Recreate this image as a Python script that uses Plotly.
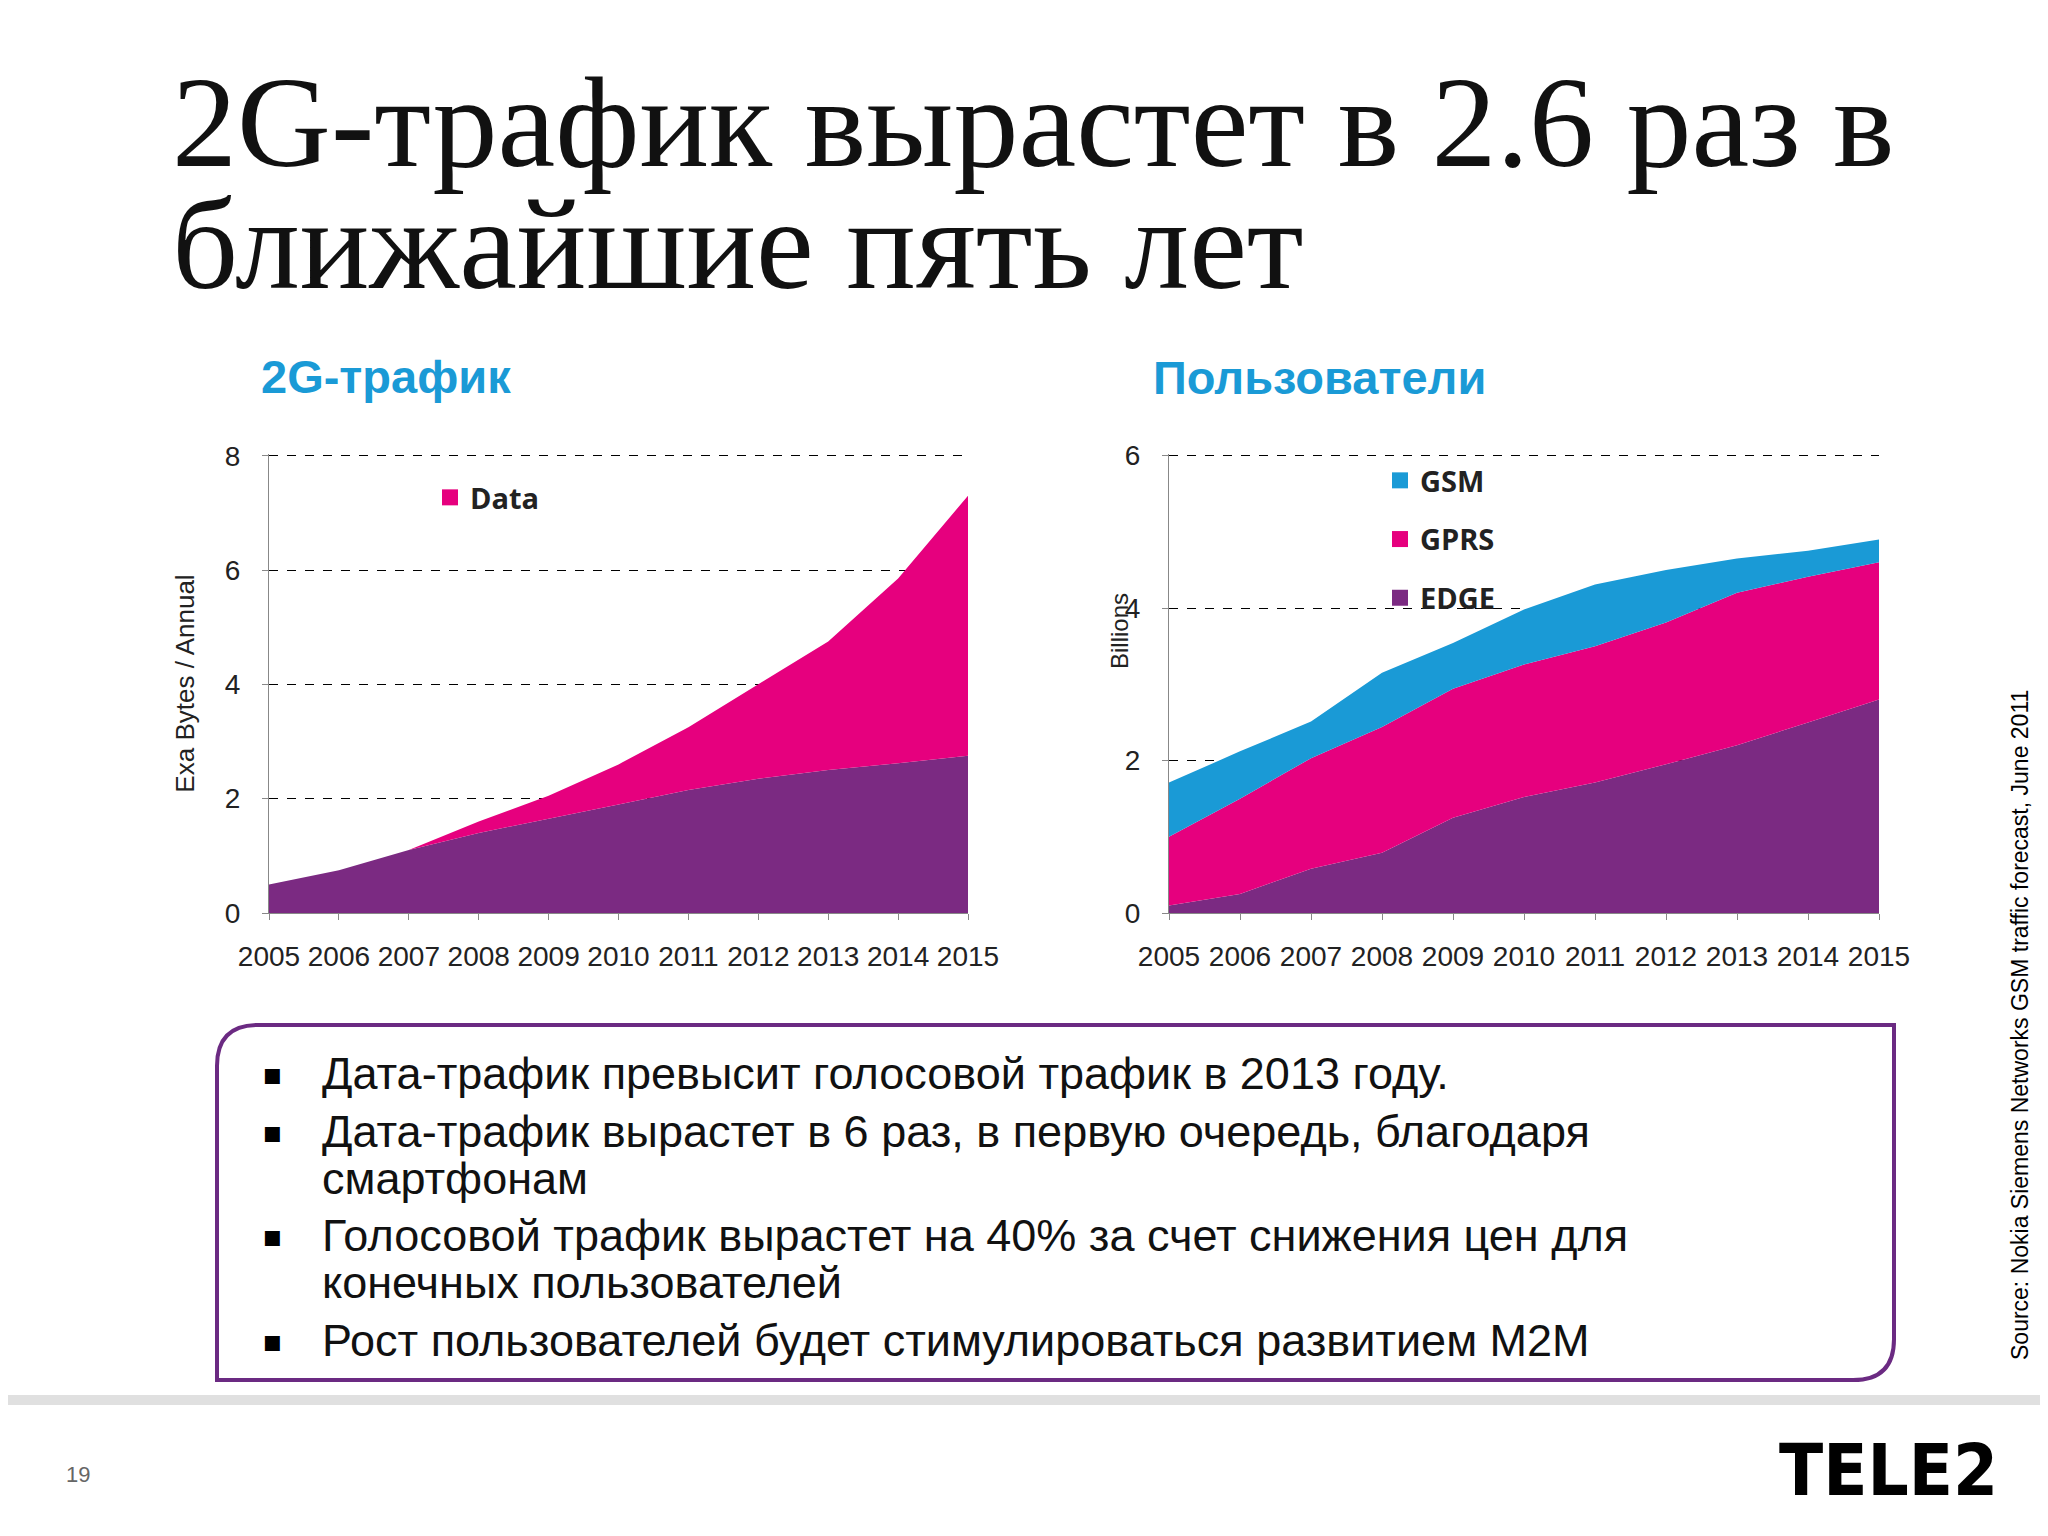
import plotly.graph_objects as go

years = list(range(2005, 2016))
voice = [0.5, 0.75, 1.1, 1.4, 1.65, 1.9, 2.15, 2.35, 2.5, 2.62, 2.75]
traffic_total = [0.5, 0.75, 1.1, 1.6, 2.05, 2.6, 3.25, 4.0, 4.75, 5.85, 7.3]
data_traffic = [t - v for t, v in zip(traffic_total, voice)]

edge = [0.1, 0.25, 0.58, 0.79, 1.25, 1.52, 1.71, 1.95, 2.2, 2.5, 2.8]
gprs_top = [1.0, 1.5, 2.03, 2.44, 2.94, 3.26, 3.5, 3.81, 4.2, 4.41, 4.6]
gsm_top = [1.71, 2.12, 2.51, 3.15, 3.54, 3.98, 4.31, 4.5, 4.65, 4.75, 4.9]
gprs = [g - e for g, e in zip(gprs_top, edge)]
gsm = [s - g for s, g in zip(gsm_top, gprs_top)]

PURPLE = "#7b2a82"
PINK = "#e6007e"
BLUE = "#1a9ad6"
W, H = 2048, 1536
OFF = 8

def px(x): return (x - OFF) / W
def py(y): return 1 - (y - OFF) / H

fig = go.Figure()
fig.add_trace(go.Scatter(x=years, y=voice, stackgroup="a", mode="none", fillcolor=PURPLE,
                         showlegend=False, xaxis="x", yaxis="y"))
fig.add_trace(go.Scatter(x=years, y=data_traffic, stackgroup="a", mode="none", fillcolor=PINK,
                         showlegend=False, xaxis="x", yaxis="y"))
fig.add_trace(go.Scatter(x=years, y=edge, stackgroup="b", mode="none", fillcolor=PURPLE,
                         showlegend=False, xaxis="x2", yaxis="y2"))
fig.add_trace(go.Scatter(x=years, y=gprs, stackgroup="b", mode="none", fillcolor=PINK,
                         showlegend=False, xaxis="x2", yaxis="y2"))
fig.add_trace(go.Scatter(x=years, y=gsm, stackgroup="b", mode="none", fillcolor=BLUE,
                         showlegend=False, xaxis="x2", yaxis="y2"))

def leg(name, color, lg, xa, ya):
    fig.add_trace(go.Scatter(x=[None], y=[None], mode="markers", name=f"<b>{name}</b>",
                             marker=dict(symbol="square", size=18, color=color),
                             legend=lg, legendgroup=name, xaxis=xa, yaxis=ya))
leg("Data", PINK, "legend", "x", "y")
leg("GSM", BLUE, "legend2", "x2", "y2")
leg("GPRS", PINK, "legend2", "x2", "y2")
leg("EDGE", PURPLE, "legend2", "x2", "y2")

axfont = dict(family="Liberation Sans, Arial", size=28, color="#222")
common_x = dict(tickmode="array", tickvals=years, showgrid=False, showline=True,
                linecolor="#888", ticks="outside", ticklen=6, tickcolor="#888",
                tickfont=axfont, zeroline=False, automargin=False, ticklabelstandoff=12)
common_y = dict(showgrid=True, gridcolor="#000", griddash="dash", gridwidth=1.3,
                showline=True, linecolor="#888", ticks="outside", ticklen=6, tickcolor="#888",
                tickfont=axfont, zeroline=False, automargin=False, ticklabelstandoff=16)

ybot, ytop = py(913), py(454)
fig.update_layout(
    width=W, height=H, margin=dict(l=0, r=0, t=0, b=0),
    paper_bgcolor="white", plot_bgcolor="white",
    xaxis=dict(domain=[px(269), px(968)], range=[2005, 2015], anchor="y", **common_x),
    yaxis=dict(domain=[ybot, ytop], range=[0, 8.03], tickvals=[0, 2, 4, 6, 8], anchor="x",
               title=dict(text="Exa Bytes / Annual", font=dict(family="Liberation Sans", size=26, color="#222"), standoff=22),
               **common_y),
    xaxis2=dict(domain=[px(1169), px(1879)], range=[2005, 2015], anchor="y2", **common_x),
    yaxis2=dict(domain=[ybot, ytop], range=[0, 6.02], tickvals=[0, 2, 4, 6], anchor="x2",
                **common_y),
    legend=dict(x=px(430), y=py(472), xanchor="left", yanchor="top", bgcolor="rgba(0,0,0,0)",
                font=dict(family="Open Sans", size=29, color="#222"), itemwidth=30),
    legend2=dict(x=px(1380), y=py(455), xanchor="left", yanchor="top", bgcolor="rgba(0,0,0,0)",
                 font=dict(family="Open Sans", size=29, color="#222"), itemwidth=30,
                 traceorder="grouped", tracegroupgap=18),
)

P = dict(xref="paper", yref="paper", showarrow=False)
ann = []
ann.append(dict(text="2G-трафик вырастет в 2.6 раз в", x=px(170), y=py(122),
                xanchor="left", yanchor="middle",
                font=dict(family="Liberation Serif", size=130, color="#111"), **P))
ann.append(dict(text="ближайшие пять лет", x=px(170), y=py(244),
                xanchor="left", yanchor="middle",
                font=dict(family="Liberation Serif", size=130, color="#111"), **P))
ann.append(dict(text="<b>2G-трафик</b>", x=px(259), y=py(376), xanchor="left", yanchor="middle",
                font=dict(family="Liberation Sans", size=47, color=BLUE), **P))
ann.append(dict(text="<b>Пользователи</b>", x=px(1151), y=py(377), xanchor="left", yanchor="middle",
                font=dict(family="Liberation Sans", size=47, color=BLUE), **P))
ann.append(dict(text="Billions", x=px(1120), y=py(631), xanchor="center", yanchor="middle", textangle=-90,
                font=dict(family="Liberation Sans", size=24, color="#222"), **P))
bullets = [(1073, "▪", "Дата-трафик превысит голосовой трафик в 2013 году."),
           (1131, "▪", "Дата-трафик вырастет в 6 раз, в первую очередь, благодаря"),
           (1178, "", "смартфонам"),
           (1235, "▪", "Голосовой трафик вырастет на 40% за счет снижения цен для"),
           (1282, "", "конечных пользователей"),
           (1340, "▪", "Рост пользователей будет стимулироваться развитием M2M")]
for y, b, t in bullets:
    if b:
        ann.append(dict(text=b, x=px(272), y=py(y), xanchor="center", yanchor="middle",
                        font=dict(family="DejaVu Sans", size=30, color="#000"), **P))
    ann.append(dict(text=t, x=px(320), y=py(y), xanchor="left", yanchor="middle",
                    font=dict(family="Liberation Sans", size=45, color="#111"), **P))
ann.append(dict(text="Source: Nokia Siemens Networks GSM traffic forecast, June 2011", x=px(2020), y=py(1025),
                xanchor="center", yanchor="middle", textangle=-90,
                font=dict(family="Liberation Sans", size=23, color="#000"), **P))
ann.append(dict(text="19", x=px(78), y=py(1474), xanchor="center", yanchor="middle",
                font=dict(family="Liberation Sans", size=22, color="#666"), **P))
ann.append(dict(text="<b>TELE2</b>", x=px(1888), y=py(1470), xanchor="center", yanchor="middle",
                font=dict(family="Liberation Sans Narrow, DejaVu Sans Condensed", size=72, color="#000"), **P))
fig.update_layout(annotations=ann)

x0, x1, y0, y1, r = px(217), px(1894), py(1025), py(1380), 0.02
fig.add_shape(type="path", xref="paper", yref="paper",
              path=f"M {x0+r} {y0} L {x1} {y0} L {x1} {y1+r*1.33} Q {x1} {y1} {x1-r} {y1} "
                   f"L {x0} {y1} L {x0} {y0-r*1.33} Q {x0} {y0} {x0+r} {y0} Z",
              line=dict(color="#6b2a82", width=4), fillcolor="rgba(0,0,0,0)")
fig.add_shape(type="rect", xref="paper", yref="paper", x0=0, x1=1, y0=py(1405), y1=py(1395),
              line=dict(width=0), fillcolor="#e0e0e0")

fig.write_html("out.html")
